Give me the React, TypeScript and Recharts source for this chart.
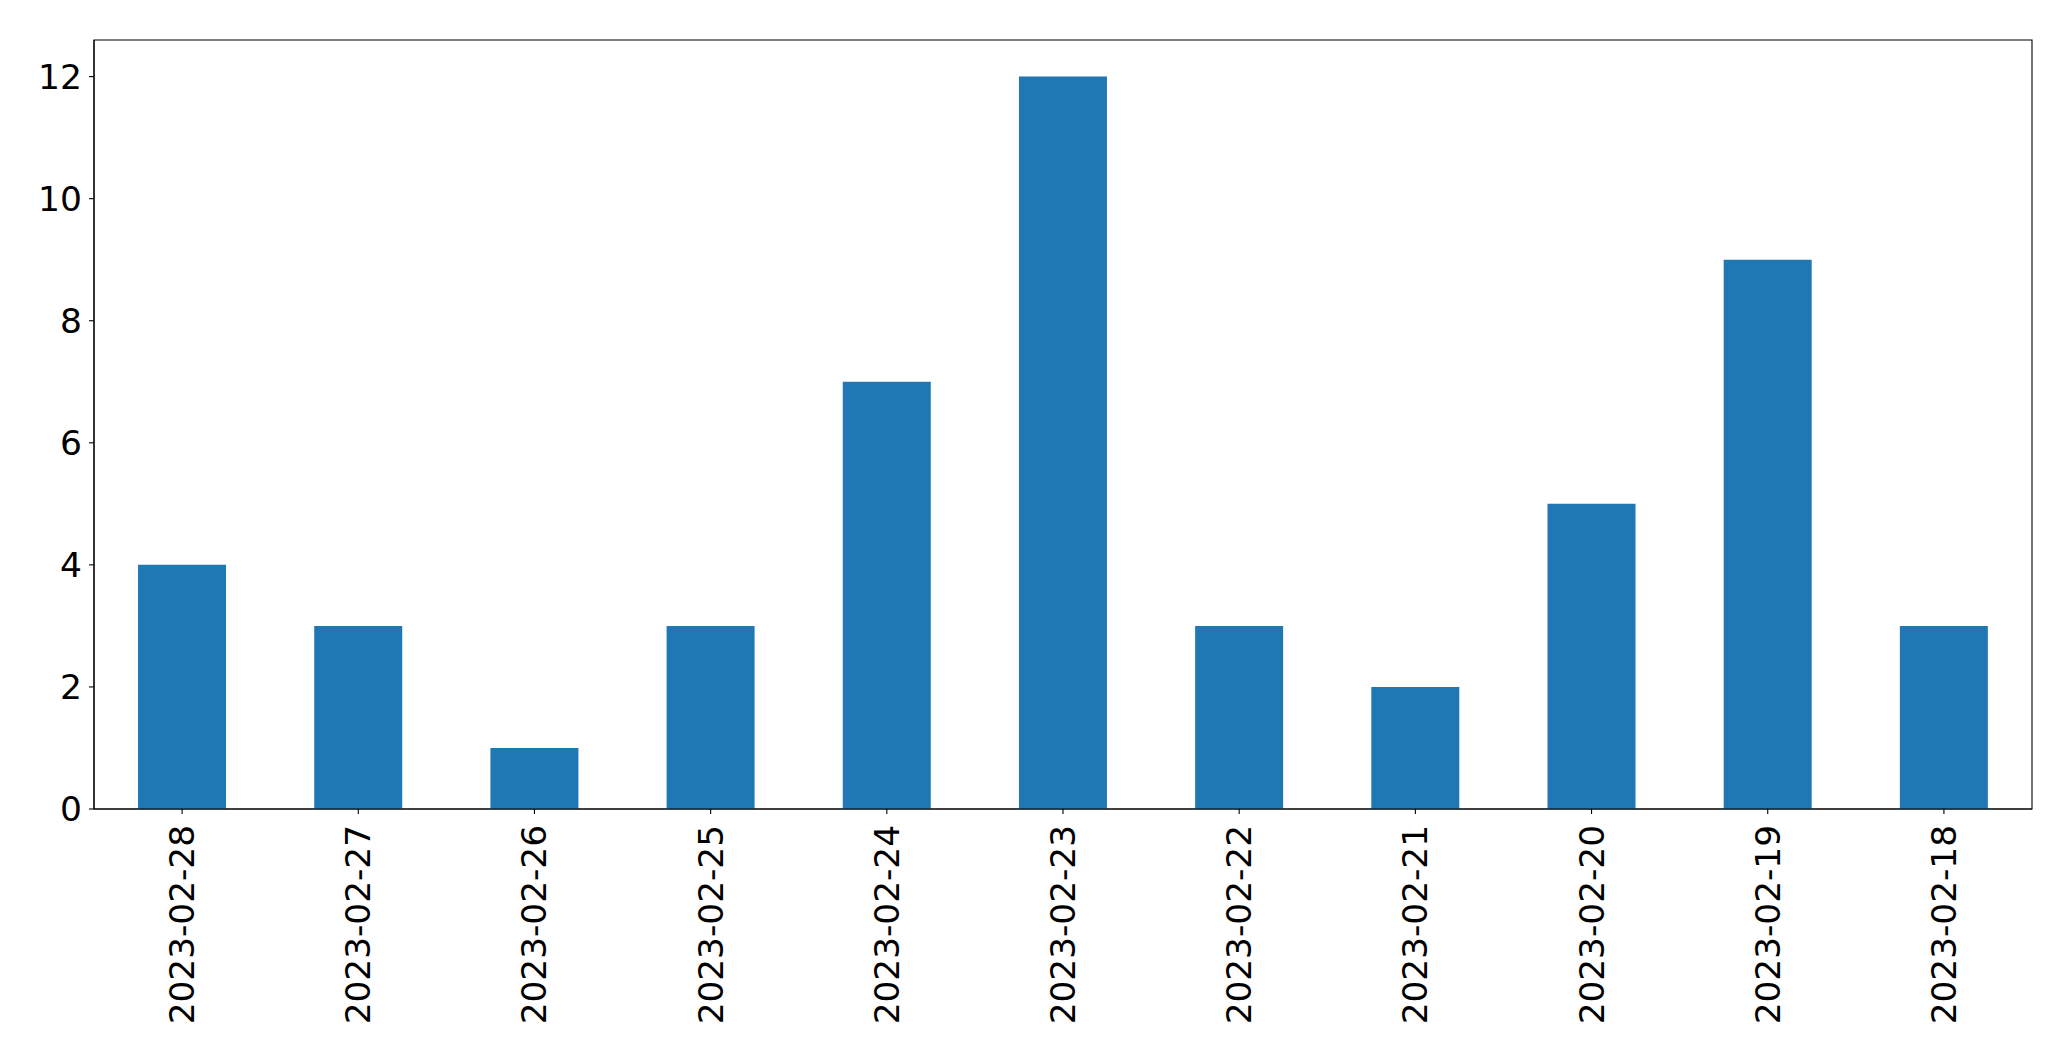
import React from "react";
import { BarChart, Bar, XAxis, YAxis, ReferenceArea } from "recharts";

const categories = [
  "2023-02-28", "2023-02-27", "2023-02-26", "2023-02-25", "2023-02-24", "2023-02-23",
  "2023-02-22", "2023-02-21", "2023-02-20", "2023-02-19", "2023-02-18",
];
const counts = [4, 3, 1, 3, 7, 12, 3, 2, 5, 9, 3];
const yTicks = [0, 2, 4, 6, 8, 10, 12];
const yMax = 12.6;

const data = categories.map((c, i) => ({ date: c, count: counts[i] }));

const FONT = "DejaVu Sans";

const XTick = (props: any) => {
  const { x, y, payload } = props;
  const ax = x + 12;
  const ay = y + 9;
  return (
    <text
      x={ax}
      y={ay}
      transform={`rotate(-90, ${ax}, ${ay})`}
      textAnchor="end"
      fontFamily={FONT}
      fontSize={34.3}
      fill="#000"
    >
      {payload.value}
    </text>
  );
};

export default function App() {
  return (
    <div style={{ position: "absolute", left: 0, top: 0, width: 2071, height: 1061, background: "#fff" }}>
      <BarChart
        width={2071}
        height={1061}
        data={data}
        margin={{ top: 40, right: 39, bottom: 0, left: 0 }}
        barCategoryGap="25%"
      >
        <XAxis
          dataKey="date"
          height={252}
          stroke="#000"
          tickLine={{ stroke: "#000", strokeWidth: 1.1 }}
          axisLine={{ stroke: "#000", strokeWidth: 1.1 }}
          tickSize={5}
          interval={0}
          tick={<XTick />}
        />
        <YAxis
          width={94}
          domain={[0, yMax]}
          ticks={yTicks}
          interval={0}
          tickSize={5}
          tickMargin={7}
          stroke="#000"
          tickLine={{ stroke: "#000", strokeWidth: 1.1 }}
          axisLine={{ stroke: "#000", strokeWidth: 1.1 }}
          tick={{ fontFamily: FONT, fontSize: 34.5, fill: "#000" }}
        />
        <Bar dataKey="count" fill="#1f77b4" isAnimationActive={false} />
        <ReferenceArea
          x1={categories[0]}
          x2={categories[categories.length - 1]}
          y1={0}
          y2={yMax}
          fill="none"
          fillOpacity={0}
          stroke="#000"
          strokeWidth={1.1}
          strokeOpacity={1}
          ifOverflow="visible"
        />
      </BarChart>
    </div>
  );
}
